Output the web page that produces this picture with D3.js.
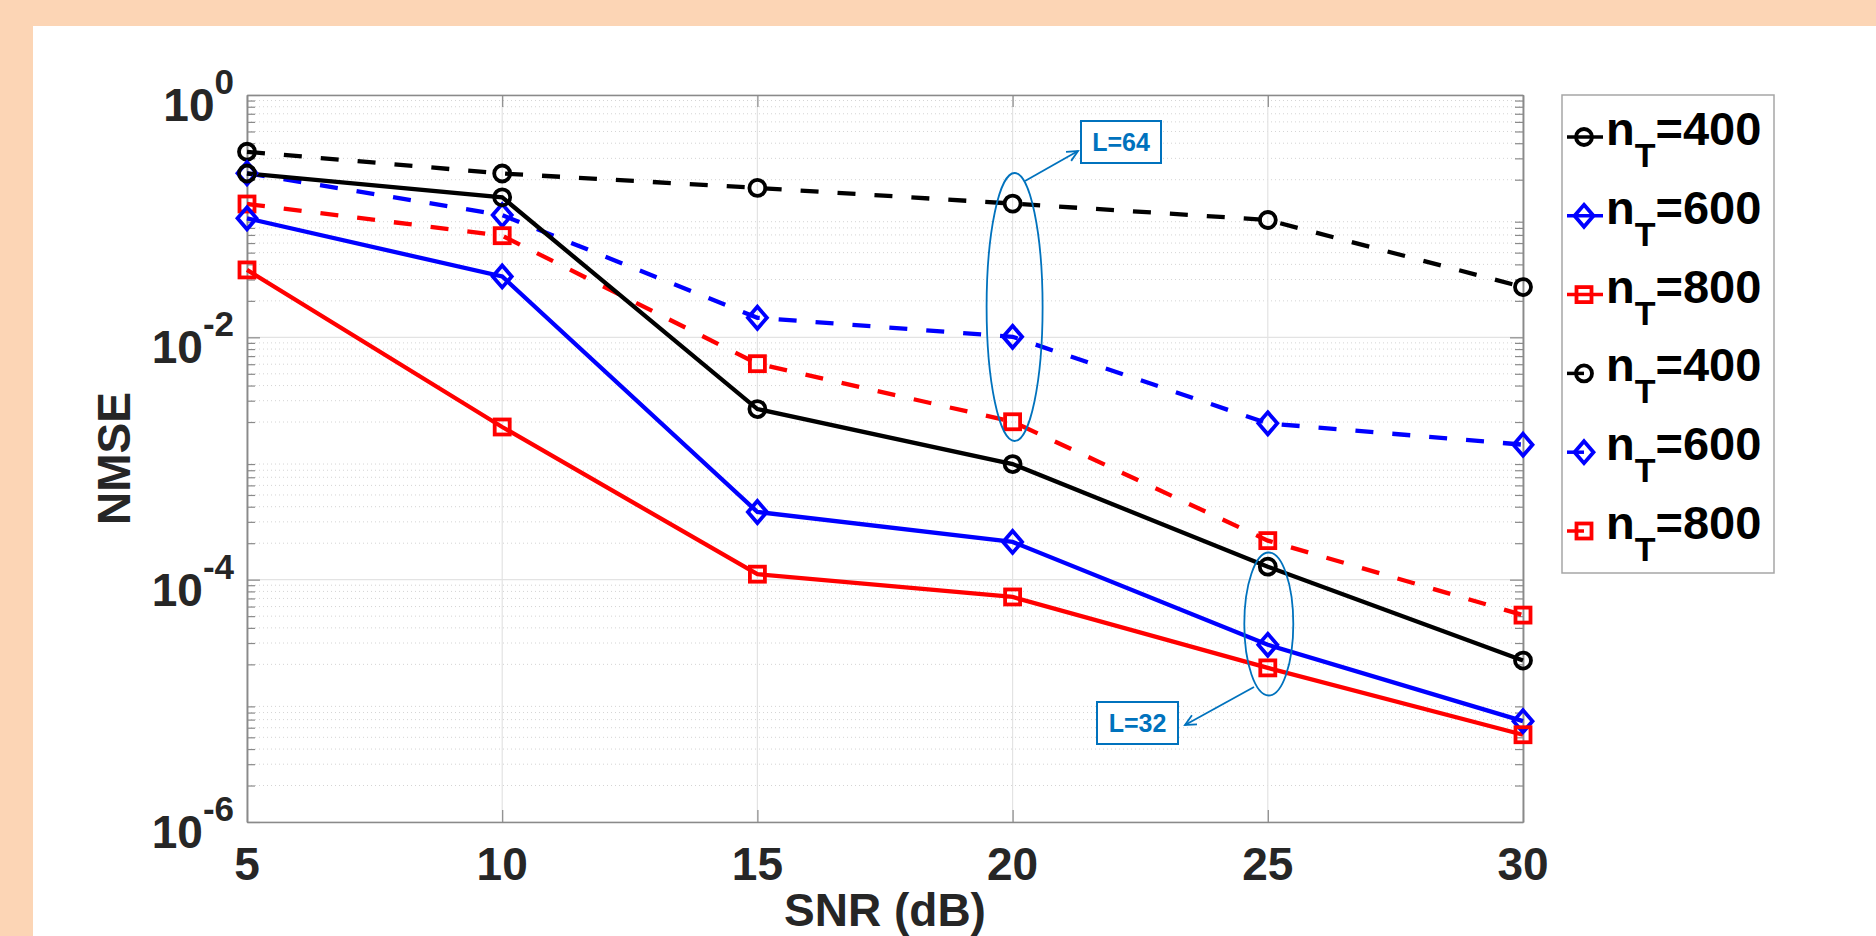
<!DOCTYPE html>
<html>
<head>
<meta charset="utf-8">
<script src="https://cdn.jsdelivr.net/npm/d3@7"></script>
<style>
  html, body { margin: 0; padding: 0; background: #FCD5B5; }
  svg { display: block; }
  text { font-family: "Liberation Sans", Arial, Helvetica, sans-serif; font-weight: bold; }
</style>
</head>
<body>
<svg id="chart" width="1876" height="936"></svg>
<script>
// ---------------- data ----------------
const snr = [5, 10, 15, 20, 25, 30];
const xTicks = [5, 10, 15, 20, 25, 30];
const yTickExps = [0, -2, -4, -6];

// L = 64 (dashed)
const L64_n400 = [0.34, 0.225, 0.171, 0.127, 0.093, 0.026];
const L64_n600 = [0.226, 0.102, 0.0145, 0.0101, 0.00195, 0.0013];
const L64_n800 = [0.126, 0.069, 0.00606, 0.00201, 0.00021, 5.1e-5];
// L = 32 (solid)
const L32_n400 = [0.225, 0.143, 0.00256, 0.0009, 0.000128, 2.15e-5];
const L32_n600 = [0.096, 0.0318, 0.000362, 0.000205, 2.9e-5, 6.8e-6];
const L32_n800 = [0.036, 0.00182, 0.000111, 7.2e-5, 1.87e-5, 5.25e-6];

const legendLabels = ["400", "600", "800", "400", "600", "800"];
const annotations = ["L=64", "L=32"];

const series = [
  { values: L64_n400, color: "#000000", marker: "circle", dashed: true },
  { values: L64_n600, color: "#0000FF", marker: "diamond", dashed: true },
  { values: L64_n800, color: "#FF0000", marker: "square", dashed: true },
  { values: L32_n400, color: "#000000", marker: "circle", dashed: false },
  { values: L32_n600, color: "#0000FF", marker: "diamond", dashed: false },
  { values: L32_n800, color: "#FF0000", marker: "square", dashed: false }
];

// ---------------- layout ----------------
const W = 1876, H = 936;
const pL = 247, pR = 1523, pT = 95, pB = 822;
const svg = d3.select("#chart");

svg.append("rect").attr("x", 0).attr("y", 0).attr("width", W).attr("height", H).attr("fill", "#FCD5B5");
svg.append("rect").attr("x", 33).attr("y", 26).attr("width", W - 33).attr("height", H - 26).attr("fill", "#FFFFFF");

const x = d3.scaleLinear().domain([5, 30]).range([pL, pR]);
const y = d3.scaleLog().domain([1e-6, 1]).range([pB, pT]);

const axisColor = "#8a8a8a";
const g = svg.append("g");

// minor grid (dotted)
const minorVals = [];
for (let e = -6; e < 0; e++) for (let m = 2; m <= 9; m++) minorVals.push(m * Math.pow(10, e));
g.selectAll(".minorgrid").data(minorVals).enter().append("line")
  .attr("x1", pL).attr("x2", pR)
  .attr("y1", d => y(d)).attr("y2", d => y(d))
  .attr("stroke", "#d4d4d4").attr("stroke-width", 1).attr("stroke-dasharray", "1,3");

// major grid
g.selectAll(".ygrid").data(yTickExps.map(e => Math.pow(10, e))).enter().append("line")
  .attr("x1", pL).attr("x2", pR)
  .attr("y1", d => y(d)).attr("y2", d => y(d))
  .attr("stroke", "#e3e3e3").attr("stroke-width", 1.2);
g.selectAll(".xgrid").data(xTicks).enter().append("line")
  .attr("x1", d => x(d)).attr("x2", d => x(d))
  .attr("y1", pT).attr("y2", pB)
  .attr("stroke", "#e3e3e3").attr("stroke-width", 1.2);

// axes via d3 axis generators (ticks inside)
const xAxisB = d3.axisBottom(x).tickValues(xTicks).tickSizeInner(-12).tickSizeOuter(0).tickFormat("");
const xAxisT = d3.axisTop(x).tickValues(xTicks).tickSizeInner(-12).tickSizeOuter(0).tickFormat("");
const yMajor = yTickExps.map(e => Math.pow(10, e));
const yAxisL = d3.axisLeft(y).tickValues(yMajor).tickSizeInner(-13).tickSizeOuter(0).tickFormat("");
const yAxisR = d3.axisRight(y).tickValues(yMajor).tickSizeInner(-13).tickSizeOuter(0).tickFormat("");
const yMinL = d3.axisLeft(y).tickValues(minorVals).tickSizeInner(-8).tickSizeOuter(0).tickFormat("");
const yMinR = d3.axisRight(y).tickValues(minorVals).tickSizeInner(-8).tickSizeOuter(0).tickFormat("");

function styleAxis(sel) {
  sel.selectAll("path").attr("stroke", axisColor).attr("stroke-width", 1.5);
  sel.selectAll("line").attr("stroke", axisColor).attr("stroke-width", 1.2);
}
styleAxis(svg.append("g").attr("transform", `translate(0,${pB})`).call(xAxisB));
styleAxis(svg.append("g").attr("transform", `translate(0,${pT})`).call(xAxisT));
styleAxis(svg.append("g").attr("transform", `translate(${pL},0)`).call(yAxisL));
styleAxis(svg.append("g").attr("transform", `translate(${pR},0)`).call(yAxisR));
styleAxis(svg.append("g").attr("transform", `translate(${pL},0)`).call(yMinL));
styleAxis(svg.append("g").attr("transform", `translate(${pR},0)`).call(yMinR));

// tick labels
const labelColor = "#262626";
svg.selectAll(".xlab").data(xTicks).enter().append("text")
  .attr("x", d => x(d)).attr("y", 880)
  .attr("text-anchor", "middle").attr("font-size", 46).attr("fill", labelColor)
  .text(d => d);

const yl = svg.selectAll(".ylab").data(yTickExps).enter().append("text")
  .attr("x", 234).attr("y", d => y(Math.pow(10, d)) + 26)
  .attr("text-anchor", "end").attr("font-size", 46).attr("fill", labelColor);
yl.append("tspan").text("10");
yl.append("tspan").attr("dy", -27).attr("font-size", 35).text(d => String(d));

// axis titles
svg.append("text").attr("x", (pL + pR) / 2).attr("y", 926)
  .attr("text-anchor", "middle").attr("font-size", 46).attr("fill", labelColor).text("SNR (dB)");
svg.append("text").attr("transform", `translate(130,${(pT + pB) / 2}) rotate(-90)`)
  .attr("text-anchor", "middle").attr("font-size", 46).attr("fill", labelColor).text("NMSE");

// markers
function drawMarker(sel, type, cx, cy, color) {
  if (type === "circle") {
    sel.append("circle").attr("cx", cx).attr("cy", cy).attr("r", 8)
      .attr("fill", "none").attr("stroke", color).attr("stroke-width", 3.8);
  } else if (type === "diamond") {
    const w = 9.5, h = 11;
    sel.append("path").attr("d", `M${cx},${cy - h}L${cx + w},${cy}L${cx},${cy + h}L${cx - w},${cy}Z`)
      .attr("fill", "none").attr("stroke", color).attr("stroke-width", 3.8);
  } else {
    const s = 7.5;
    sel.append("rect").attr("x", cx - s).attr("y", cy - s).attr("width", 2 * s).attr("height", 2 * s)
      .attr("fill", "none").attr("stroke", color).attr("stroke-width", 3.8);
  }
}

const line = d3.line().x((d, i) => x(snr[i])).y(d => y(d));
const plot = svg.append("g");
series.forEach(s => {
  plot.append("path").datum(s.values).attr("d", line)
    .attr("fill", "none").attr("stroke", s.color).attr("stroke-width", 4.3)
    .attr("stroke-dasharray", s.dashed ? "18,19" : null);
});
series.forEach(s => {
  const mg = plot.append("g");
  s.values.forEach((v, i) => drawMarker(mg, s.marker, x(snr[i]), y(v), s.color));
});

// annotations
const annColor = "#0072BD";
const ann = svg.append("g");
ann.append("ellipse").attr("cx", x(20) + 2).attr("cy", 307).attr("rx", 28).attr("ry", 134)
  .attr("fill", "none").attr("stroke", annColor).attr("stroke-width", 1.8);
ann.append("ellipse").attr("cx", x(25) + 1).attr("cy", 624).attr("rx", 24.5).attr("ry", 71.5)
  .attr("fill", "none").attr("stroke", annColor).attr("stroke-width", 1.8);

function arrow(x1, y1, x2, y2) {
  ann.append("line").attr("x1", x1).attr("y1", y1).attr("x2", x2).attr("y2", y2)
    .attr("stroke", annColor).attr("stroke-width", 1.8);
  const a = Math.atan2(y2 - y1, x2 - x1), L = 12, sp = 0.45;
  ann.append("path")
    .attr("d", `M${x2 - L * Math.cos(a - sp)},${y2 - L * Math.sin(a - sp)}L${x2},${y2}L${x2 - L * Math.cos(a + sp)},${y2 - L * Math.sin(a + sp)}`)
    .attr("fill", "none").attr("stroke", annColor).attr("stroke-width", 1.8);
}
arrow(1025, 181, 1078, 151);
arrow(1254, 687, 1185, 725);

function box(x0, y0, w, h, label) {
  ann.append("rect").attr("x", x0).attr("y", y0).attr("width", w).attr("height", h)
    .attr("fill", "#FFFFFF").attr("stroke", annColor).attr("stroke-width", 2);
  ann.append("text").attr("x", x0 + w / 2).attr("y", y0 + h / 2 + 9)
    .attr("text-anchor", "middle").attr("font-size", 25).attr("fill", annColor).text(label);
}
box(1081, 121, 80, 42, annotations[0]);
box(1097, 702, 81, 42, annotations[1]);

// legend
const leg = svg.append("g");
leg.append("rect").attr("x", 1562).attr("y", 95).attr("width", 212).attr("height", 478)
  .attr("fill", "#FFFFFF").attr("stroke", "#a6a6a6").attr("stroke-width", 1.5);
series.forEach((s, i) => {
  const cy = 137 + i * 78.8;
  const mx = 1584;
  const x2 = i < 3 ? 1603 : mx;
  leg.append("line").attr("x1", 1567).attr("x2", x2).attr("y1", cy).attr("y2", cy)
    .attr("stroke", s.color).attr("stroke-width", 3.5);
  drawMarker(leg, s.marker, mx, cy, s.color);
  const t = leg.append("text").attr("x", 1606).attr("y", cy + 8).attr("font-size", 47).attr("fill", "#000");
  t.append("tspan").text("n");
  t.append("tspan").attr("dy", 22).attr("font-size", 34).text("T");
  t.append("tspan").attr("dy", -22).text("=" + legendLabels[i]);
});
</script>
</body>
</html>
